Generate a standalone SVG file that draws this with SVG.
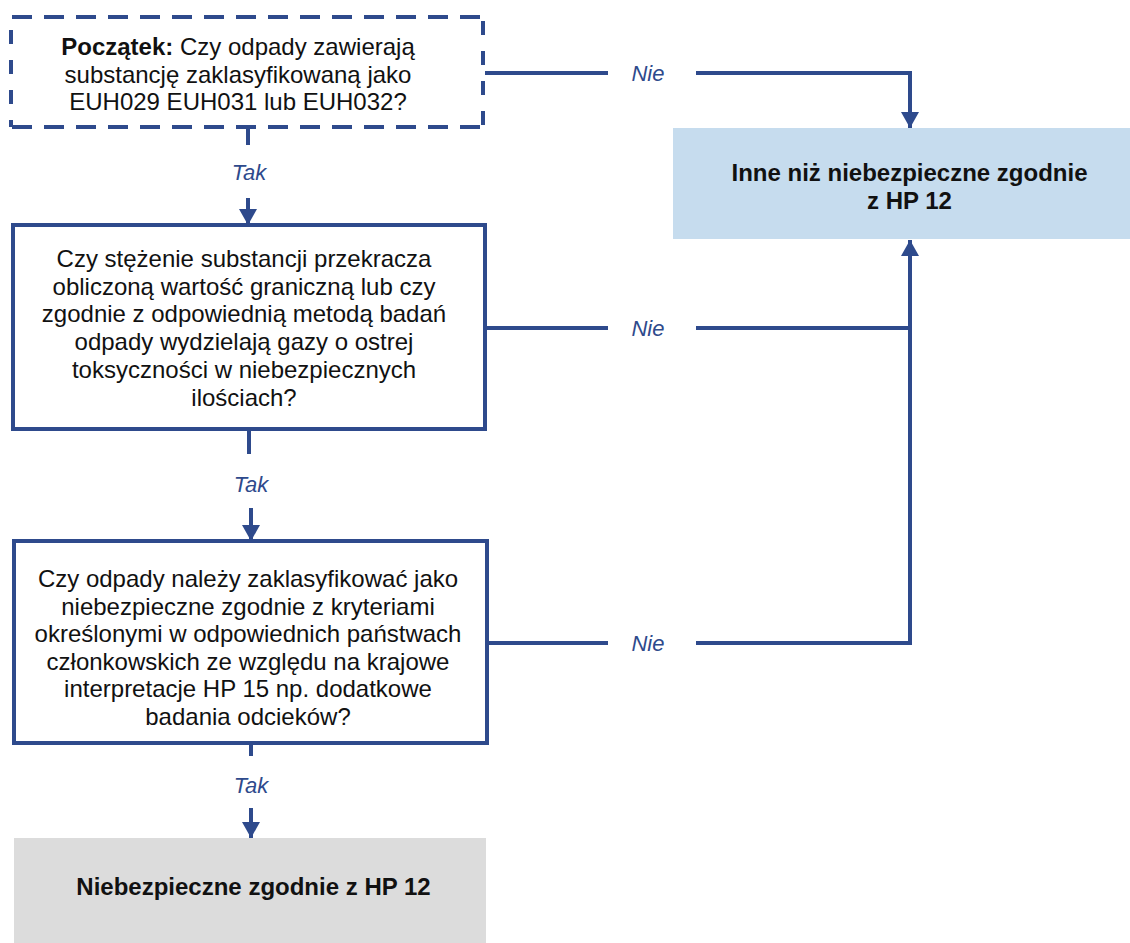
<svg xmlns="http://www.w3.org/2000/svg" width="1130" height="943" viewBox="0 0 1130 943">
  <style>
    .q { font-family: "Liberation Sans", Arial, sans-serif; font-size: 24px; fill: #111; text-anchor: middle; }
    .b { font-weight: bold; }
    .lbl { font-family: "Liberation Sans", Arial, sans-serif; font-size: 22px; font-style: italic; fill: #2E4A8C; text-anchor: middle; }
    .box { fill: #fff; stroke: #2E4A8C; stroke-width: 4; }
    .edge { fill: none; stroke: #2E4A8C; stroke-width: 4; }
    .dashH { fill: none; stroke: #2E4A8C; stroke-width: 4; stroke-dasharray: 20 12; }
    .dashV { fill: none; stroke: #2E4A8C; stroke-width: 4; stroke-dasharray: 14 16; }
  </style>
  <defs>
    <marker id="arrow" markerUnits="userSpaceOnUse" markerWidth="18" markerHeight="18" viewBox="0 0 18 18" refX="16" refY="9" orient="auto">
      <path d="M0,0 L16,9 L0,18 Z" fill="#2E4A8C"/>
    </marker>
  </defs>
  <rect width="1130" height="943" fill="#fff"/>

  <!-- start question, dashed outline -->
  <g id="start">
    <path class="dashH" d="M12,17 H484 M12,127 H484"/>
    <path class="dashV" d="M11,30 V127 M483,21 V127"/>
    <text class="q" x="238" y="55"><tspan class="b">Początek:</tspan> Czy odpady zawierają</text>
    <text class="q" x="238" y="82.5">substancję zaklasyfikowaną jako</text>
    <text class="q" x="238" y="110">EUH029 EUH031 lub EUH032?</text>
  </g>

  <!-- concentration / gas test question -->
  <g id="q-concentration">
    <rect class="box" x="13" y="225" width="472" height="204"/>
    <text class="q" x="244" y="267">Czy stężenie substancji przekracza</text>
    <text class="q" x="244" y="295">obliczoną wartość graniczną lub czy</text>
    <text class="q" x="244" y="322">zgodnie z odpowiednią metodą badań</text>
    <text class="q" x="244" y="350">odpady wydzielają gazy o ostrej</text>
    <text class="q" x="244" y="378">toksyczności w niebezpiecznych</text>
    <text class="q" x="244" y="406">ilościach?</text>
  </g>

  <!-- national criteria question -->
  <g id="q-national">
    <rect class="box" x="14" y="541" width="473" height="202"/>
    <text class="q" x="248" y="587">Czy odpady należy zaklasyfikować jako</text>
    <text class="q" x="248" y="614.6">niebezpieczne zgodnie z kryteriami</text>
    <text class="q" x="248" y="642">określonymi w odpowiednich państwach</text>
    <text class="q" x="248" y="670">członkowskich ze względu na krajowe</text>
    <text class="q" x="248" y="697">interpretacje HP 15 np. dodatkowe</text>
    <text class="q" x="248" y="725">badania odcieków?</text>
  </g>

  <!-- outcome: hazardous -->
  <g id="out-hazardous">
    <rect x="14" y="838" width="472" height="110" fill="#DCDCDC"/>
    <text class="q b" x="253.5" y="895">Niebezpieczne zgodnie z HP 12</text>
  </g>

  <!-- outcome: non-hazardous -->
  <g id="out-nonhazardous">
    <rect x="673" y="128" width="480" height="111" fill="#C6DCEE"/>
    <text class="q b" x="909.5" y="181">Inne niż niebezpieczne zgodnie</text>
    <text class="q b" x="909.5" y="209">z HP 12</text>
  </g>

  <!-- connectors -->
  <g id="connectors">
    <path class="edge" d="M248,127 V145"/>
    <path class="edge" d="M248,198 V225" marker-end="url(#arrow)"/>
    <text class="lbl" x="249" y="180">Tak</text>

    <path class="edge" d="M249,429 V454"/>
    <path class="edge" d="M251,508 V541" marker-end="url(#arrow)"/>
    <text class="lbl" x="251" y="492">Tak</text>

    <path class="edge" d="M251,743 V756"/>
    <path class="edge" d="M251,808 V838" marker-end="url(#arrow)"/>
    <text class="lbl" x="251" y="793">Tak</text>

    <path class="edge" d="M485,73 H608"/>
    <path class="edge" d="M696,73 H910 V128" marker-end="url(#arrow)"/>
    <text class="lbl" x="648" y="81">Nie</text>

    <path class="edge" d="M485,328 H608"/>
    <path class="edge" d="M696,328 H910"/>
    <text class="lbl" x="648" y="336">Nie</text>

    <path class="edge" d="M487,643 H608"/>
    <path class="edge" d="M696,643 H910 V240" marker-end="url(#arrow)"/>
    <text class="lbl" x="648" y="651">Nie</text>
  </g>
</svg>
